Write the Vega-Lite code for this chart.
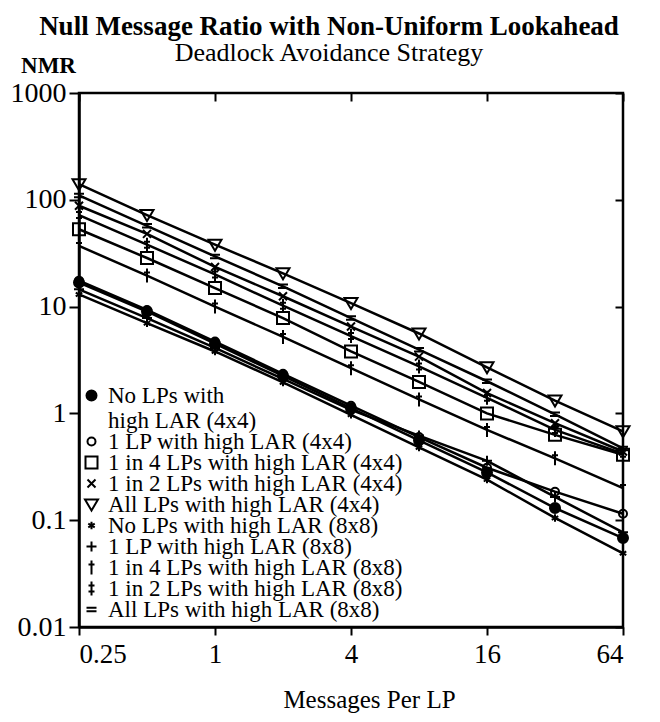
{
  "$schema": "https://vega.github.io/schema/vega-lite/v6.json",
  "autosize": "none",
  "width": 544,
  "height": 534,
  "padding": {"left": 79, "top": 93, "right": 37, "bottom": 95},
  "background": "white",
  "title": {
    "text": "Null Message Ratio with Non-Uniform Lookahead",
    "subtitle": "Deadlock Avoidance Strategy",
    "anchor": "middle",
    "frame": "group",
    "dx": -22,
    "offset": -13,
    "font": "Liberation Serif",
    "fontSize": 27,
    "fontWeight": "bold",
    "color": "black",
    "subtitleFont": "Liberation Serif",
    "subtitleFontSize": 26,
    "subtitleColor": "black",
    "subtitlePadding": -1
  },
  "config": {
    "view": {"stroke": "black", "strokeWidth": 2.5},
    "axis": {
      "domainColor": "black",
      "domainWidth": 2.5,
      "tickColor": "black",
      "tickWidth": 2,
      "grid": false,
      "labelFont": "Liberation Serif",
      "labelColor": "black",
      "titleFont": "Liberation Serif",
      "titleColor": "black",
      "titleFontWeight": "normal"
    },
    "legend": {
      "orient": "none",
      "legendX": 1,
      "legendY": 291,
      "padding": 0,
      "labelFont": "Liberation Serif",
      "labelFontSize": 23,
      "labelColor": "black",
      "labelLimit": 600,
      "labelOffset": 5,
      "rowPadding": -3,
      "gridAlign": "none",
      "symbolSize": 100,
      "symbolStrokeColor": "black",
      "symbolStrokeWidth": 2,
      "symbolOpacity": 1
    }
  },
  "data": {
    "values": [
      {"mpl": 0.25, "nmr": 16.8, "series": "No LPs with high LAR (4x4)"},
      {"mpl": 0.5, "nmr": 9.0, "series": "No LPs with high LAR (4x4)"},
      {"mpl": 1, "nmr": 4.5, "series": "No LPs with high LAR (4x4)"},
      {"mpl": 2, "nmr": 2.25, "series": "No LPs with high LAR (4x4)"},
      {"mpl": 4, "nmr": 1.12, "series": "No LPs with high LAR (4x4)"},
      {"mpl": 8, "nmr": 0.56, "series": "No LPs with high LAR (4x4)"},
      {"mpl": 16, "nmr": 0.28, "series": "No LPs with high LAR (4x4)"},
      {"mpl": 32, "nmr": 0.13, "series": "No LPs with high LAR (4x4)"},
      {"mpl": 64, "nmr": 0.068, "series": "No LPs with high LAR (4x4)"},

      {"mpl": 0.25, "nmr": 17.5, "series": "1 LP with high LAR (4x4)"},
      {"mpl": 0.5, "nmr": 9.3, "series": "1 LP with high LAR (4x4)"},
      {"mpl": 1, "nmr": 4.7, "series": "1 LP with high LAR (4x4)"},
      {"mpl": 2, "nmr": 2.35, "series": "1 LP with high LAR (4x4)"},
      {"mpl": 4, "nmr": 1.18, "series": "1 LP with high LAR (4x4)"},
      {"mpl": 8, "nmr": 0.6, "series": "1 LP with high LAR (4x4)"},
      {"mpl": 16, "nmr": 0.31, "series": "1 LP with high LAR (4x4)"},
      {"mpl": 32, "nmr": 0.185, "series": "1 LP with high LAR (4x4)"},
      {"mpl": 64, "nmr": 0.115, "series": "1 LP with high LAR (4x4)"},

      {"mpl": 0.25, "nmr": 53, "series": "1 in 4 LPs with high LAR (4x4)"},
      {"mpl": 0.5, "nmr": 28.5, "series": "1 in 4 LPs with high LAR (4x4)"},
      {"mpl": 1, "nmr": 14.9, "series": "1 in 4 LPs with high LAR (4x4)"},
      {"mpl": 2, "nmr": 7.8, "series": "1 in 4 LPs with high LAR (4x4)"},
      {"mpl": 4, "nmr": 3.8, "series": "1 in 4 LPs with high LAR (4x4)"},
      {"mpl": 8, "nmr": 1.97, "series": "1 in 4 LPs with high LAR (4x4)"},
      {"mpl": 16, "nmr": 1.0, "series": "1 in 4 LPs with high LAR (4x4)"},
      {"mpl": 32, "nmr": 0.63, "series": "1 in 4 LPs with high LAR (4x4)"},
      {"mpl": 64, "nmr": 0.41, "series": "1 in 4 LPs with high LAR (4x4)"},

      {"mpl": 0.25, "nmr": 88, "series": "1 in 2 LPs with high LAR (4x4)"},
      {"mpl": 0.5, "nmr": 48, "series": "1 in 2 LPs with high LAR (4x4)"},
      {"mpl": 1, "nmr": 23.5, "series": "1 in 2 LPs with high LAR (4x4)"},
      {"mpl": 2, "nmr": 12.5, "series": "1 in 2 LPs with high LAR (4x4)"},
      {"mpl": 4, "nmr": 6.5, "series": "1 in 2 LPs with high LAR (4x4)"},
      {"mpl": 8, "nmr": 3.4, "series": "1 in 2 LPs with high LAR (4x4)"},
      {"mpl": 16, "nmr": 1.55, "series": "1 in 2 LPs with high LAR (4x4)"},
      {"mpl": 32, "nmr": 0.81, "series": "1 in 2 LPs with high LAR (4x4)"},
      {"mpl": 64, "nmr": 0.44, "series": "1 in 2 LPs with high LAR (4x4)"},

      {"mpl": 0.25, "nmr": 140, "series": "All LPs with high LAR (4x4)"},
      {"mpl": 0.5, "nmr": 72, "series": "All LPs with high LAR (4x4)"},
      {"mpl": 1, "nmr": 38, "series": "All LPs with high LAR (4x4)"},
      {"mpl": 2, "nmr": 20.5, "series": "All LPs with high LAR (4x4)"},
      {"mpl": 4, "nmr": 10.8, "series": "All LPs with high LAR (4x4)"},
      {"mpl": 8, "nmr": 5.6, "series": "All LPs with high LAR (4x4)"},
      {"mpl": 16, "nmr": 2.7, "series": "All LPs with high LAR (4x4)"},
      {"mpl": 32, "nmr": 1.32, "series": "All LPs with high LAR (4x4)"},
      {"mpl": 64, "nmr": 0.68, "series": "All LPs with high LAR (4x4)"},

      {"mpl": 0.25, "nmr": 13.0, "series": "No LPs with high LAR (8x8)"},
      {"mpl": 0.5, "nmr": 7.0, "series": "No LPs with high LAR (8x8)"},
      {"mpl": 1, "nmr": 3.8, "series": "No LPs with high LAR (8x8)"},
      {"mpl": 2, "nmr": 1.95, "series": "No LPs with high LAR (8x8)"},
      {"mpl": 4, "nmr": 0.97, "series": "No LPs with high LAR (8x8)"},
      {"mpl": 8, "nmr": 0.48, "series": "No LPs with high LAR (8x8)"},
      {"mpl": 16, "nmr": 0.24, "series": "No LPs with high LAR (8x8)"},
      {"mpl": 32, "nmr": 0.105, "series": "No LPs with high LAR (8x8)"},
      {"mpl": 64, "nmr": 0.049, "series": "No LPs with high LAR (8x8)"},

      {"mpl": 0.25, "nmr": 14.5, "series": "1 LP with high LAR (8x8)"},
      {"mpl": 0.5, "nmr": 7.8, "series": "1 LP with high LAR (8x8)"},
      {"mpl": 1, "nmr": 4.1, "series": "1 LP with high LAR (8x8)"},
      {"mpl": 2, "nmr": 2.1, "series": "1 LP with high LAR (8x8)"},
      {"mpl": 4, "nmr": 1.08, "series": "1 LP with high LAR (8x8)"},
      {"mpl": 8, "nmr": 0.62, "series": "1 LP with high LAR (8x8)"},
      {"mpl": 16, "nmr": 0.36, "series": "1 LP with high LAR (8x8)"},
      {"mpl": 32, "nmr": 0.165, "series": "1 LP with high LAR (8x8)"},
      {"mpl": 64, "nmr": 0.077, "series": "1 LP with high LAR (8x8)"},

      {"mpl": 0.25, "nmr": 37, "series": "1 in 4 LPs with high LAR (8x8)"},
      {"mpl": 0.5, "nmr": 19.5, "series": "1 in 4 LPs with high LAR (8x8)"},
      {"mpl": 1, "nmr": 10, "series": "1 in 4 LPs with high LAR (8x8)"},
      {"mpl": 2, "nmr": 5.2, "series": "1 in 4 LPs with high LAR (8x8)"},
      {"mpl": 4, "nmr": 2.65, "series": "1 in 4 LPs with high LAR (8x8)"},
      {"mpl": 8, "nmr": 1.35, "series": "1 in 4 LPs with high LAR (8x8)"},
      {"mpl": 16, "nmr": 0.7, "series": "1 in 4 LPs with high LAR (8x8)"},
      {"mpl": 32, "nmr": 0.38, "series": "1 in 4 LPs with high LAR (8x8)"},
      {"mpl": 64, "nmr": 0.2, "series": "1 in 4 LPs with high LAR (8x8)"},

      {"mpl": 0.25, "nmr": 72, "series": "1 in 2 LPs with high LAR (8x8)"},
      {"mpl": 0.5, "nmr": 38, "series": "1 in 2 LPs with high LAR (8x8)"},
      {"mpl": 1, "nmr": 20, "series": "1 in 2 LPs with high LAR (8x8)"},
      {"mpl": 2, "nmr": 10.2, "series": "1 in 2 LPs with high LAR (8x8)"},
      {"mpl": 4, "nmr": 5.3, "series": "1 in 2 LPs with high LAR (8x8)"},
      {"mpl": 8, "nmr": 2.75, "series": "1 in 2 LPs with high LAR (8x8)"},
      {"mpl": 16, "nmr": 1.4, "series": "1 in 2 LPs with high LAR (8x8)"},
      {"mpl": 32, "nmr": 0.7, "series": "1 in 2 LPs with high LAR (8x8)"},
      {"mpl": 64, "nmr": 0.42, "series": "1 in 2 LPs with high LAR (8x8)"},

      {"mpl": 0.25, "nmr": 110, "series": "All LPs with high LAR (8x8)"},
      {"mpl": 0.5, "nmr": 57, "series": "All LPs with high LAR (8x8)"},
      {"mpl": 1, "nmr": 29.5, "series": "All LPs with high LAR (8x8)"},
      {"mpl": 2, "nmr": 15.5, "series": "All LPs with high LAR (8x8)"},
      {"mpl": 4, "nmr": 7.8, "series": "All LPs with high LAR (8x8)"},
      {"mpl": 8, "nmr": 3.95, "series": "All LPs with high LAR (8x8)"},
      {"mpl": 16, "nmr": 2.0, "series": "All LPs with high LAR (8x8)"},
      {"mpl": 32, "nmr": 0.98, "series": "All LPs with high LAR (8x8)"},
      {"mpl": 64, "nmr": 0.47, "series": "All LPs with high LAR (8x8)"}
    ]
  },
  "layer": [
    {
      "mark": {"type": "line", "color": "black", "strokeWidth": 2.5},
      "encoding": {
        "x": {
          "field": "mpl", "type": "quantitative",
          "scale": {"type": "log", "base": 2, "domain": [0.25, 64]},
          "axis": {
            "orient": "bottom", "values": [0.25, 1, 4, 16, 64], "format": "~g",
            "tickSize": 8, "labelFontSize": 27, "labelPadding": 6,
            "title": "Messages Per LP", "titleFontSize": 25, "titlePadding": 20, "titleX": 290
          }
        },
        "y": {
          "field": "nmr", "type": "quantitative",
          "scale": {"type": "log", "domain": [0.01, 1000]},
          "axis": {
            "orient": "left", "values": [0.01, 0.1, 1, 10, 100, 1000], "format": "~g",
            "tickSize": 10, "labelFontSize": 28, "labelPadding": 3,
            "title": "NMR", "titleFontSize": 23, "titleFontWeight": "bold",
            "titleAngle": 0, "titleAlign": "center", "titleBaseline": "alphabetic",
            "titleX": -31, "titleY": -21
          }
        },
        "detail": {"field": "series"}
      }
    },
    {
      "mark": {"type": "point", "color": "black", "stroke": "black", "strokeWidth": 2, "opacity": 1, "size": 100},
      "encoding": {
        "x": {
          "field": "mpl", "type": "quantitative",
          "scale": {"type": "log", "base": 2, "domain": [0.25, 64]},
          "axis": {"orient": "top", "values": [0.25, 1, 4, 16, 64], "labels": false, "title": null, "domain": false, "tickSize": -8}
        },
        "y": {
          "field": "nmr", "type": "quantitative",
          "scale": {"type": "log", "domain": [0.01, 1000]},
          "axis": {"orient": "right", "values": [0.01, 0.1, 1, 10, 100, 1000], "labels": false, "title": null, "domain": false, "tickSize": -8}
        },
        "shape": {
          "field": "series", "type": "nominal",
          "sort": null,
          "scale": {
            "domain": ["No LPs with high LAR (4x4)", "1 LP with high LAR (4x4)", "1 in 4 LPs with high LAR (4x4)", "1 in 2 LPs with high LAR (4x4)", "All LPs with high LAR (4x4)", "No LPs with high LAR (8x8)", "1 LP with high LAR (8x8)", "1 in 4 LPs with high LAR (8x8)", "1 in 2 LPs with high LAR (8x8)", "All LPs with high LAR (8x8)"],
            "range": [
              "M-1,0A1,1 0 1,0 1,0A1,1 0 1,0 -1,0Z",
              "M-0.8,0A0.8,0.8 0 1,0 0.8,0A0.8,0.8 0 1,0 -0.8,0Z",
              "M-1.2,-1.2L1.2,-1.2L1.2,1.2L-1.2,1.2Z",
              "M-0.8,-0.8L0.8,0.8M-0.8,0.8L0.8,-0.8",
              "M-1.3,-1L1.3,-1L0,1.2Z",
              "M0,-0.75L0,0.75M-0.65,-0.38L0.65,0.38M-0.65,0.38L0.65,-0.38",
              "M-1,0L1,0M0,-1L0,1",
              "M0,-1.4L0,1.4M-0.6,-0.6L0.6,-0.6",
              "M0,-1.4L0,1.4M-0.6,-0.6L0.6,-0.6M-0.6,0.6L0.6,0.6",
              "M-1,-0.35L1,-0.35M-1,0.35L1,0.35"
            ]
          },
          "legend": {
            "title": null,
            "rowPadding": -3,
            "gridAlign": "none",
            "symbolStrokeColor": "black",
            "symbolStrokeWidth": 2,
            "labelExpr": "datum.value == 'No LPs with high LAR (4x4)' ? ['No LPs with', 'high LAR (4x4)'] : datum.label"
          }
        },
        "stroke": {
          "field": "series", "type": "nominal",
          "sort": null,
          "scale": {
            "domain": ["No LPs with high LAR (4x4)", "1 LP with high LAR (4x4)", "1 in 4 LPs with high LAR (4x4)", "1 in 2 LPs with high LAR (4x4)", "All LPs with high LAR (4x4)", "No LPs with high LAR (8x8)", "1 LP with high LAR (8x8)", "1 in 4 LPs with high LAR (8x8)", "1 in 2 LPs with high LAR (8x8)", "All LPs with high LAR (8x8)"],
            "range": ["black", "black", "black", "black", "black", "black", "black", "black", "black", "black"]
          },
          "legend": {
            "title": null,
            "labelExpr": "datum.value == 'No LPs with high LAR (4x4)' ? ['No LPs with', 'high LAR (4x4)'] : datum.label"
          }
        },
        "fill": {
          "field": "series", "type": "nominal",
          "sort": null,
          "scale": {
            "domain": ["No LPs with high LAR (4x4)", "1 LP with high LAR (4x4)", "1 in 4 LPs with high LAR (4x4)", "1 in 2 LPs with high LAR (4x4)", "All LPs with high LAR (4x4)", "No LPs with high LAR (8x8)", "1 LP with high LAR (8x8)", "1 in 4 LPs with high LAR (8x8)", "1 in 2 LPs with high LAR (8x8)", "All LPs with high LAR (8x8)"],
            "range": ["black", "transparent", "transparent", "transparent", "transparent", "black", "transparent", "transparent", "transparent", "transparent"]
          },
          "legend": {
            "title": null,
            "labelExpr": "datum.value == 'No LPs with high LAR (4x4)' ? ['No LPs with', 'high LAR (4x4)'] : datum.label"
          }
        }
      }
    }
  ],
  "resolve": {"axis": {"x": "independent", "y": "independent"}}
}
